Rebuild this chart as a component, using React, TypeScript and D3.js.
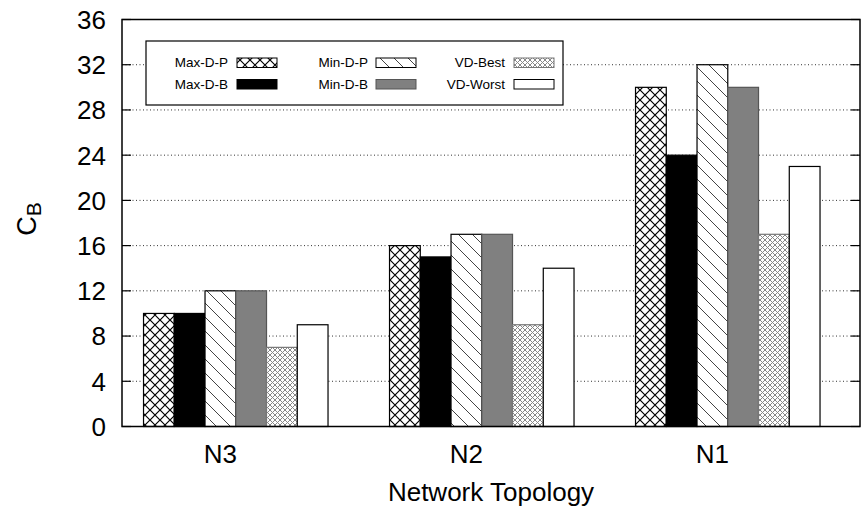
import React from "react";
import * as d3 from "d3";

const categories = ["N3", "N2", "N1"];
const seriesNames = ["Max-D-P", "Max-D-B", "Min-D-P", "Min-D-B", "VD-Best", "VD-Worst"];
const maxDP = [10, 16, 30];
const maxDB = [10, 15, 24];
const minDP = [12, 17, 32];
const minDB = [12, 17, 30];
const vdBest = [7, 9, 17];
const vdWorst = [9, 14, 23];
const seriesValues = [maxDP, maxDB, minDP, minDB, vdBest, vdWorst];
const yTicks = [0, 4, 8, 12, 16, 20, 24, 28, 32, 36];

const fills = ["url(#xhatch)", "#000000", "url(#diag)", "#808080", "url(#fine)", "#ffffff"];
const strokes = ["#000", "#000", "#000", "#555", "#777", "#000"];

const W = 864;
const H = 515;
const L = 122, R = 860, T = 19.5, B = 426.5;
const FONT = "'Liberation Sans', Arial, Helvetica, sans-serif";

export default function App() {
  const x = d3.scaleLinear().domain([-0.4, 2.6]).range([L, R]);
  const y = d3.scaleLinear().domain([0, 36]).range([B, T]);
  const bw = 1 / 8;

  const legendCols = [
    { textX: 228, sx: 237 },
    { textX: 368, sx: 376 },
    { textX: 505, sx: 514 },
  ];
  const rowY = [62.5, 84];

  return (
    <svg width={W} height={H} style={{ position: "absolute", left: 0, top: 0, background: "#fff" }}
      fontFamily={FONT}>
      <defs>
        <pattern id="xhatch" patternUnits="userSpaceOnUse" width={10} height={10}>
          <rect width={10} height={10} fill="#fff" />
          <path d="M0,0 L10,10 M10,0 L0,10" stroke="#000" strokeWidth={1.2} />
        </pattern>
        <pattern id="diag" patternUnits="userSpaceOnUse" width={14} height={14}>
          <rect width={14} height={14} fill="#fff" />
          <path d="M0,0 L14,14 M-7,7 L7,21 M7,-7 L21,7" stroke="#444" strokeWidth={1} />
        </pattern>
        <pattern id="fine" patternUnits="userSpaceOnUse" width={5} height={5}>
          <rect width={5} height={5} fill="#fff" />
          <path d="M0,0 L5,5 M5,0 L0,5" stroke="#888" strokeWidth={1} />
        </pattern>
      </defs>

      {/* grid */}
      {yTicks.filter(t => t > 0 && t < 36).map(t => (
        <line key={"g" + t} x1={L} x2={R} y1={y(t)} y2={y(t)} stroke="#333" strokeWidth={1}
          strokeDasharray="1,2.5" />
      ))}

      {/* bars */}
      {categories.map((c, i) =>
        seriesValues.map((vals, j) => {
          const x0 = x(i + (j - 2.5) * bw);
          const x1 = x(i + (j - 1.5) * bw);
          return (
            <rect key={c + j} x={x0} y={y(vals[i])} width={x1 - x0} height={y(0) - y(vals[i])}
              fill={fills[j]} stroke={strokes[j]} strokeWidth={1.2} />
          );
        })
      )}

      {/* legend */}
      <rect x={146} y={41} width={417} height={64} fill="#fff" stroke="#000" strokeWidth={1.2} />
      {seriesNames.map((name, j) => {
        const col = legendCols[Math.floor(j / 2)];
        const ry = rowY[j % 2];
        return (
          <g key={name}>
            <text x={col.textX} y={ry} dy="0.35em" textAnchor="end" fontSize={13.5}>{name}</text>
            <rect x={col.sx} y={ry - 4.5} width={40} height={9.5} fill={fills[j]} stroke={strokes[j]}
              strokeWidth={1} />
          </g>
        );
      })}

      {/* frame and ticks */}
      <rect x={L} y={T} width={R - L} height={B - T} fill="none" stroke="#000" strokeWidth={1.5} />
      {yTicks.map(t => (
        <g key={"t" + t}>
          <line x1={L} x2={L + 9} y1={y(t)} y2={y(t)} stroke="#000" strokeWidth={1.2} />
          <line x1={R} x2={R - 9} y1={y(t)} y2={y(t)} stroke="#000" strokeWidth={1.2} />
          <text x={106} y={y(t)} dy="0.36em" textAnchor="end" fontSize={26}>{t}</text>
        </g>
      ))}

      {categories.map((c, i) => (
        <text key={c} x={x(i)} y={463} textAnchor="middle" fontSize={26}>{c}</text>
      ))}

      <text x={(L + R) / 2} y={501} textAnchor="middle" fontSize={26}>Network Topology</text>

      <text transform={`translate(36, 219) rotate(-90)`} textAnchor="middle" fontSize={27}>
        C<tspan fontSize={21} dy={5}>B</tspan>
      </text>
    </svg>
  );
}
